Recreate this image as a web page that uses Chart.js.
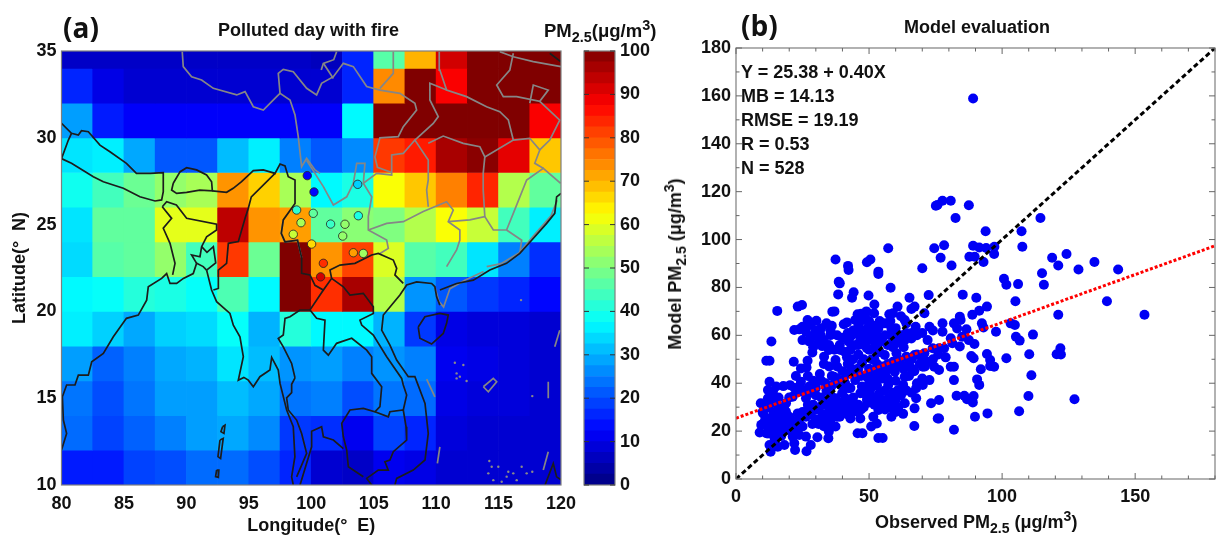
<!DOCTYPE html>
<html><head><meta charset="utf-8">
<script src="https://cdn.jsdelivr.net/npm/chart.js@4"></script>
<style>
html,body{margin:0;padding:0;background:#fff;width:1220px;height:537px;overflow:hidden}
canvas{position:absolute;left:0;top:0}
.t{position:absolute;white-space:nowrap;font-family:"Liberation Sans",Arial,sans-serif;font-weight:700;color:#111;line-height:1;font-size:18px}
.t sub,.t sup{font-size:78%;line-height:0}
.big{font-family:"Open Sans",sans-serif;font-size:28px}
</style></head><body>
<canvas id="map" width="1220" height="537"></canvas>
<canvas id="bar" width="1220" height="537"></canvas>
<canvas id="sc" width="1220" height="537"></canvas>
<div class="t big" style="left:63px;top:13px">(a)</div>
<div class="t big" style="left:741px;top:11px">(b)</div>
<div class="t" style="left:218px;top:21px">Polluted day with fire</div>
<div class="t" style="left:544px;top:22px;font-size:18.5px">PM<sub>2.5</sub>(μg/m<sup>3</sup>)</div>
<div class="t" style="left:904px;top:18px">Model evaluation</div>
<div class="t" style="left:875px;top:513px">Observed PM<sub>2.5</sub> (μg/m<sup>3</sup>)</div>
<div class="t" style="left:675px;top:264px;transform:translate(-50%,-50%) rotate(-90deg)">Model PM<sub>2.5</sub> (μg/m<sup>3</sup>)</div>
<div class="t" style="left:741px;top:63px">Y = 25.38 + 0.40X</div>
<div class="t" style="left:741px;top:87px">MB = 14.13</div>
<div class="t" style="left:741px;top:111px">RMSE = 19.19</div>
<div class="t" style="left:741px;top:135px">R = 0.53</div>
<div class="t" style="left:741px;top:159px">N = 528</div>
<script>
// ---------- panel (a) data: PM2.5 grid, north to south ----------
const lonCenters=[81.25,83.75,86.25,88.75,91.25,93.75,96.25,98.75,101.25,103.75,106.25,108.75,111.25,113.75,116.25,118.75];
const latEdges=[35,34,32,30,28,26,24,22,20,18,16,14,12,10];
const pmGrid=[
[7,7,7,7,7,7,7,7,6,16,46,70,92,100,100,100],
[16,10,8,8,8,8,8,8,8,16,74,100,88,100,100,100],
[28,15,12,12,12,12,12,12,12,37,100,100,100,100,100,88],
[35,36,29,21,21,31,36,25,21,26,82,85,96,99,90,68],
[39,44,48,52,54,73,67,54,37,40,62,68,75,84,55,47],
[35,47,47,60,60,94,73,72,47,51,50,55,62,57,44,36],
[34,46,47,52,44,82,48,100,73,81,59,46,44,35,25,17],
[37,38,41,40,38,45,37,100,83,96,55,27,21,18,16,13],
[36,33,29,33,34,38,30,41,37,37,30,18,10,9,9,8],
[28,22,25,29,30,35,31,27,28,25,27,25,11,10,9,8],
[24,20,24,28,28,31,29,24,25,20,24,23,10,9,9,8],
[23,19,22,25,28,29,26,18,17,11,19,16,9,8,8,8],
[15,15,19,20,23,23,20,16,8,7,11,10,8,8,8,8]];
const stationLon=[99.68,100.22,98.83,99.18,98.56,100.16,100.03,103.72,103.77,101.55,102.7,102.52,103.37,104.17,100.97,100.75];
const stationLat=[27.82,26.88,25.84,25.11,24.44,25.65,23.88,27.32,25.51,25.03,25.02,24.34,23.38,23.34,22.77,21.99];
const stationPM=[12,13,42,54,57,47,66,33,40,43,52,52,72,53,83,92];
const blackOutlines=[
[[80,30.83],[80.8,30.26],[81.35,30.16],[81.6,30.41],[82.15,30.35],[83.08,29.58],[83.88,29.2],[85.2,28.53],[86,27.95],[87.1,27.95],[88.15,27.99],[88.15,26.9],[88.02,26.42],[87.49,26.36],[86.28,26.6],[84.95,27.09],[83.35,27.47],[82.55,27.76],[80.8,28.53],[80,28.8]],
[[80.8,30.26],[80.55,29.87],[80,28.8]],
[[88.95,27.38],[89.5,28.05],[90.02,28.28],[90.82,28.15],[91.62,27.86],[92.02,27.47],[92.08,26.94],[91.07,26.99],[90.02,26.86],[89.22,26.8],[88.82,26.99],[88.95,27.38]],
[[92.08,26.94],[93.22,26.86],[93.75,27.09],[94.42,27.47],[95.36,28.11],[96.16,28.15],[97.1,27.95],[97.5,28.49],[97.9,28.38],[98.16,27.76],[98.7,27.57],[98.7,26.22],[97.76,25.27],[97.6,24.5],[97.9,24],[98.9,24.1],[99.23,23.1],[99.23,22.2],[99.9,22.1],[100.3,21.5],[100.97,21.23],[101.63,21.9],[101.5,22.38],[102.3,22.67],[103.5,22.77],[104.84,23.25],[105.37,23.34],[106.57,22.96],[106.84,22.48],[106.7,22.1],[107.37,21.61]],
[[97.1,27.95],[95.2,26.6],[94.96,25.94],[94.7,25.36],[94.16,24.02],[93.36,23.92],[93.22,22.77],[92.56,22.38],[92.56,21.32],[92.16,21.23]],
[[91.62,22.38],[92.02,21.23],[92.42,20.56],[93.49,19.88],[93.76,19.21],[94.29,18.54],[94.56,17.39],[94.16,16.04],[94.6,16.2],[94.96,16.04],[95.36,15.66],[95.89,16.24],[96.69,16.62],[96.83,17.35],[97.36,16.62],[97.5,15.85],[98.03,14.32],[98.56,13.36],[98.69,11.63],[98.43,10.47],[98.56,10]],
[[80,12.01],[80.41,12.97],[80.15,13.74],[80.07,15.08],[80.41,15.76],[81.08,15.76],[81.35,16.33],[82.15,16.33],[82.42,17.1],[83.35,17.58],[84.15,18.54],[85.2,19.6],[86.15,19.79],[86.82,20.65],[86.95,21.42],[88.02,21.9],[88.42,22.18],[88.69,21.61],[89.22,21.61],[89.76,21.9],[90.55,22.18],[90.82,22.77],[91.35,22.58],[91.62,22.38]],
[[88.07,26.03],[88.42,26.32],[89.2,26.13],[90.02,25.36],[92.42,25.03],[92.42,24.69],[91.62,24.3],[91.22,23.73],[91.09,23.15],[90.42,23.25],[90.82,22.77]],
[[91.22,23.73],[91.65,23.4],[92.16,23.73],[92.35,22.8],[91.62,22.38]],
[[88.07,26.03],[88.82,25.36],[88.15,24.79],[88.69,23.92],[89.09,22.77],[88.9,22.1]],
[[98.7,16.17],[98.43,15.8],[98.43,15.32],[98.03,15.02],[98.16,14.32],[98.83,13.74],[99.23,12.97],[99.63,11.82],[98.83,10.47]],
[[98.7,16.17],[98.43,17],[97.76,17.96],[97.36,18.44],[97.76,18.64],[97.9,19.6],[98.3,19.69],[99.1,20.08],[99.9,20.08],[100.97,21.23]],
[[99.9,20.08],[100.43,19.6],[101.1,19.5],[100.97,17.77],[101.37,17.48],[102.03,18.16],[103.24,18.45],[104.44,17.77],[104.84,17.39],[104.84,16.43],[105.64,15.66],[105.5,14.51],[105.1,14.22],[104.17,14.41],[103.1,14.32],[102.44,13.55],[102.57,12.78],[102.84,12.01],[102.97,11.05],[104.17,10.48]],
[[99.1,10],[100.03,12.2],[100.03,13.1],[100.83,13.36],[100.97,12.78],[101.77,12.59],[102.57,12.1]],
[[105.1,14.22],[106.17,13.93],[106.3,14.22],[107.37,14.32],[107.59,13.36],[107.64,12.59],[106.57,11.92],[106.3,11.44],[105.9,11.34],[106.17,10.86],[105.37,10.86],[104.44,10.38],[104.84,10]],
[[106.7,10],[106.84,10.38],[108.17,10.86],[109.11,11.44],[109.37,12.97],[109.11,14.7],[108.3,16.24],[107.77,16.24],[106.84,17.2],[106.3,18.06],[105.64,18.92],[105.77,19.79],[107.1,20.94],[107.64,21.52],[108.44,21.7],[109.64,21.61],[109.9,21.42],[110.04,20.84],[110.3,20.36]],
[[107.37,14.32],[107.64,15.18],[107.37,15.76],[107.24,16.14],[106.04,17.39],[104.97,18.64],[104.04,19.21],[103.9,19.5],[104.97,19.88],[104.97,20.27],[104.17,21.04],[103.1,20.94],[102.57,21.42],[101.63,21.9]],
[[110.3,21.23],[111.64,21.61],[112.98,21.8],[114.3,22.38],[115.64,22.77],[116.7,23.34],[117.65,24.1],[118.85,25.07],[119.5,25.65],[119.65,26.6],[120,26.8]],
[[108.57,19.1],[109.1,19.69],[110.3,19.88],[110.97,19.79],[110.84,19.31],[110.57,18.73],[109.64,18.12],[108.7,18.45],[108.57,19.1]],
[[92.9,13.36],[93.09,13.45],[93.01,12.97],[92.77,13.07],[92.9,13.36]],
[[92.69,12.59],[92.95,12.68],[92.74,11.53],[92.53,11.63],[92.69,12.59]],
[[92.42,10.86],[92.6,10.86],[92.56,10.44],[92.34,10.48],[92.42,10.86]],
[[118.72,10],[119.38,11.24],[119.65,10.47],[120,10.3]],
[[119.1,34.87],[119.97,34.39]]];
const greyOutlines=[
[[89.67,34.96],[89.75,34.1],[90.42,33.52],[91.22,33.33],[92.16,32.85],[94.03,32.47],[94.7,32.66],[95.36,31.79],[96.16,31.6],[97.23,32.37],[97.5,32.56],[98.3,32.18],[98.7,31.31],[98.96,30.07],[99.23,28.34],[99.63,28.82],[100.3,28.15],[100.7,27.95]],
[[97.5,32.56],[97.36,33.71],[97.76,33.94],[98.56,33.81],[99.63,32.85],[100.43,32.47],[100.83,33.14],[101.77,33.52],[102.57,34.29],[103.37,34.1],[104.44,32.95],[105.5,32.75],[107.1,32.56],[108.3,31.99],[108.44,31.6],[107.37,30.64],[106.97,30.07],[105.5,30],[105.1,28.9],[105.3,28.3],[106.44,28.0]],
[[99.63,28.7],[100.97,27.19],[101.77,26.13],[102.84,26.6],[103.37,27.38],[103.64,28.53],[104.3,28.53],[104.17,27.38],[104.84,26.6],[104.57,25.46],[104.57,24.69],[106.04,24.11],[106.17,23.63],[105.5,23.34]],
[[104.57,24.69],[106.04,25.07],[107.37,25.17],[108.97,25.75],[110.84,26.32],[111.37,25.84],[110.97,25.17],[111.9,24.69],[111.9,24.11],[111.64,23.54],[110.84,22.58]],
[[104.17,27.38],[105.24,27.95],[106.44,27.86],[106.44,29.01],[107.37,29.1],[108.3,29.87],[109.37,28.72],[109.37,27.57],[109.24,27],[109.37,26.03]],
[[109.37,29.68],[110.57,30.1],[112.17,29.68],[113.5,29.49],[113.9,28.9],[113.77,27.95],[113.77,27],[113.9,25.46],[112.7,25.27],[110.97,25.17]],
[[113.9,25.46],[114.58,24.69],[115.64,24.69],[116.18,25.65],[117.25,27.57],[118.58,28.24],[119.97,27.38]],
[[115.64,24.69],[116.85,24.1],[116.7,23.34]],
[[113.9,28.9],[116.18,29.87],[117.5,29.97],[118.3,29.3],[117.9,28.53],[118.58,28.24]],
[[116.18,29.87],[115.78,31.03],[115.1,31.5],[114.04,31.79],[112.44,32.37],[110.84,32.75],[110.3,33.9],[110.25,34.96]],
[[110.84,32.75],[109.5,33.14],[109.5,32.18],[110.17,31.22],[109.77,30.83],[108.3,29.87]],
[[116.18,34.87],[115.9,33.9],[114.85,33.04],[115.38,32.37],[116.45,32.37],[118.3,32.1],[118.98,32.75],[117.78,33.04],[117.5,31.99]],
[[118.3,32.1],[119.9,31.02],[119.1,29.87],[118.3,29.3]],
[[115.1,34.96],[116.18,34.67],[117.78,34.39],[120,34.1]],
[[100.97,34.29],[101.77,33.42]],
[[102.03,34.96],[101.8,34.5],[100.97,34.29],[100.8,33.9]],
[[106.57,34.96],[106.57,33.71],[105.5,32.85]],
[[97.76,25.27],[97.6,24.5],[97.9,24],[98.9,24.1],[99.23,23.1]],
[[114.05,22.58],[115.2,22.75],[116.7,23.4],[117.8,24.35],[119.2,25.5],[119.7,26.4]],
[[109.9,21.4],[110.2,20.6],[110.6,20.25],[111.1,21.3],[112.3,21.8],[113.8,22.3]],
[[109.24,16.1],[109.9,15.08]],[[118.98,15.95],[118.98,14.99]],[[119.5,17.96],[119.9,18.92]],[[110.3,12.2],[110.1,11.24]],[[118.98,11.92],[118.58,10.86]],
[[113.78,15.66],[114.58,16.14],[114.85,15.95],[114.18,15.37],[113.78,15.66]]];
const islandDots=[[111.5,17.04],[112.18,16.91],[111.64,16.43],[111.9,16.24],[112.44,15.99],[111.64,16.14],[117.7,15.12],[116.8,20.65],[114.26,11.38],[114.45,11.05],[114.98,11.05],[114.18,10.67],[114.58,10.28],[115.78,10.76],[115.65,10.48],[116.18,10.67],[116.45,10.28],[116.85,11.05],[117.25,10.67],[117.7,10.76],[115.25,10.19]];
const lonTicks=[80,85,90,95,100,105,110,115,120];
const latTicks=[10,15,20,25,30,35];
// ---------- colour bar ----------
const barLevels=[0,2.5,5,7.5,10,12.5,15,17.5,20,22.5,25,27.5,30,32.5,35,37.5,40,42.5,45,47.5,50,52.5,55,57.5,60,62.5,65,67.5,70,72.5,75,77.5,80,82.5,85,87.5,90,92.5,95,97.5,100];
// ---------- panel (b) data ----------
const oneToOneX=[0,180], oneToOneY=[0,180];
const fitX=[0,180], fitY=[25.38,97.38];
const scatterPoints=[[100.7,83.6],[101.6,81.1],[106,81.4],[115.7,81.1],[115,85.9],[128.7,87.5],[143.6,87.5],[139.4,74.2],[153.5,68.6],[121.1,68.6],[105,74.2],[85.2,77],[90.3,75.7],[94.3,72],[91.4,70.3],[88.8,68.6],[84.1,67.8],[81.9,65],[84.4,66.4],[83.1,62.9],[86.6,62.5],[77.6,65],[77.6,61.5],[92.4,65],[93,63.3],[97.7,61.5],[103.2,65],[104.8,64.3],[111.6,60.3],[105.2,59.4],[106.6,57.8],[89.6,56.4],[84.1,55.3],[80.7,58.8],[85,59.4],[87.5,58],[81.3,56.7],[78.2,54.6],[76.3,54.6],[121.9,54.6],[120.5,52.1],[122.1,52],[110.2,52.1],[101.6,50.4],[94.3,52.2],[95.5,49.7],[88.4,51.4],[89.3,50.4],[78.8,50.8],[95.5,47.2],[97,46.9],[92,45.8],[80.7,46.9],[81.9,46.9],[76.3,45.5],[111,43.3],[81.9,41.3],[90.6,41.6],[91.4,39.3],[82.9,34.8],[85.8,34.8],[89.3,34.7],[86.8,33.3],[89,32],[109.9,34.7],[127.2,33.3],[76.3,33],[94.5,27.4],[89.8,26],[106.4,28.3],[76.3,25.3],[81.9,20.6],
[89.1,158.9],[77.6,116.2],[80.7,116.2],[75.7,114.4],[87.5,114.3],[82.5,109],[114.4,109],[93.8,103.5],[107.3,103.5],[107.6,97],[78.2,97.6],[89.1,97.4],[91.4,96.7],[94,96.5],[97.1,97],[97,94],[87.7,92.8],[89.7,92.8],[93,90.6],[76.9,92.4],[81,89.2],[118.8,92.4],[124.2,94],[121.1,89.2],[134.7,90.6],
[37.4,91.7],[42.1,89],[49.2,90.5],[50.5,91.7],[57.2,96.4],[53.5,86.6],[70,88],[75.1,114.1],[74.5,96.4],
[53.5,85.6],[42.3,87.3],[39,81.7],[38.6,82.4],[58.1,79.9],[38.4,77.1],[44.2,78],[43.6,75.7],[49.8,76.6],[52,72.9],[65.2,75.7],[72.4,76.8],[60.7,72],[67.1,72],[65.9,71],[70.8,69.2],[15.5,70.2],[24.8,72.7],[23.2,72],[37,70],[36.2,69.9],[45.7,68.8],[48.5,68.5],[44.8,66.4],[47.9,66.4],[51.9,69.2],[57.6,68.8],[59,69.2],[63.4,66.4],[72.7,63.6],[67.5,63.6],[41.7,65.4],[40.5,64.6],[26.9,66.4],[30.2,66.1],[25,63.6],[28.1,64.3],[21.9,62.2],[23.8,62.5],[26.3,61.5],[35.5,62],[31.8,60.1],[35.5,60.1],[29.3,60.1],[25,58],[27.5,57.4],[13.3,57.4],[28.7,52.8],[32.4,55.5],[34.9,53.9],[39.3,53.9],[33.1,51.1],[37.4,49.7],[41.7,50.8],[42.3,57.4],[44.8,60.8],[43,59.4],[47.3,62.2],[49.8,63.6],[53.5,62.9],[46.7,58],[51,58.7],[52.9,57.4],[46,56],[49.2,54.6],[52.9,53.2],[55.9,51.8],[58.4,62.9],[60.9,60.1],[63.4,58],[65.9,58.7],[59.1,58],[60.3,52.5],[64,51.1],[67.1,51.8],[70.8,52.5],[73.9,54.6],[11.4,49.4],[12.6,49.4],[21.7,49],[26.9,49.4],[24.4,46.2],[26.5,46.6],[22.5,43],[24.4,40.6],[12.6,40.6],[12,37.2],[15.1,38.6],[17.8,38.8],[20.3,39.2],[13.9,36.5],[31.5,43.8],[36.8,42.7],[30.6,40.7],[33.7,40],[27.5,38.6],[23.8,36.5],[30,37.9],[35.5,35.1],[40.5,41.3],[43.3,46.2],[46,46.2],[44.8,41.3],[47.3,48.3],[49.2,42.7],[52.2,44.1],[55.9,45.5],[59.7,44.8],[63.4,42.7],[65.9,46.2],[70.2,46.9],[74.5,46.9],[72.7,41.3],[70.2,39.3],[67.7,37.9],[62.8,39.3],[57.2,39.3],[60.9,37.2],[52.2,40],[47.3,38.6],[50.4,37.2],[46.7,35.8],[49.2,33],[53.5,35.1],[57.2,33.7],[67.7,33.7],[73.3,31.6],[63.4,31.6],[67.1,29.5],[62.8,27.2],[58.4,26],[53.5,28.8],[51.6,26],[52.9,23.2],[50.8,21.9],[67,22.1],[75.8,25.3],[45.7,19.1],[47.5,19.1],[53.5,17.1],[55.1,17.1],[34.7,17],[30.6,17.4],[28.1,14.2],[26.5,11.6],[22.2,12.1],[21.9,14.9],[18.2,14.2],[15.7,13.5],[13,11.4],[12.6,14.2],
[9.3,31.6],[12,33.7],[15.1,31.6],[18.8,28.1],[10.2,27.4],[12,25.3],[15.1,26],[9.5,22.6],[8.9,19.4],[12,21.9],[14.5,22.6],[17,21.9],[11.4,19.1],[13.9,19.1],[16.4,20.5],[14.5,17],[18.8,31.6],[21.3,34.4],[26.3,33.7],[23.2,27.4],[26.3,26],[25,21.9],[28.7,23],[22.5,21.2],[23.8,18.4],[21.3,17.7],[26.3,17.7],[34.9,19.8],[35.5,23.3],[37.4,21.9],[32.4,26],[34.9,28.1],[38,26],[39.9,30.2],[37.4,33.7],[41.1,33.7],[43,25.3],[46.7,25.3],[43.6,30.2],[46,28.1],[32.4,30.9],[29.3,28.8],[39.9,35.8],[42.3,37.9],[39.3,39.3],
[40,45],[42,44],[36,43],[38,47],[35,47],[33,48],[45,44],[47,43],[50,46],[48,50],[51,50],[53,48],[55,47],[57,48],[60,47],[62,48],[55,42],[57,42],[60,41],[53,39],[56,37],[59,36],[47,36],[44,34],[41,32],[38,31],[36,33],[34,32],[32,34],[30,35],[28,36],[26,37],[24,39],[22,38],[20,34],[18,30],[16,29],[14,28],[12,30],[20,26],[18,24],[16,24],[14,21],[12,19],[10,23],[22,24],[24,23],[27,29],[29,31],[31,29],[33,27],[35,30],[37,28],[39,26],[41,28],[42,30],[44,32],[46,31],[48,30],[50,32],[52,33],[54,31],[56,29],[58,30],[60,33],[62,35],[64,37],[66,36],[68,40],[70,42],[65,43],[67,45],[69,48],[72,49],[74,50],[76,52],[63,55],[61,57],[59,55],[57,56],[55,59],[53,60],[51,61],[49,60],[47,59],[45,56],[43,54],[41,53],[39,56],[37,54],[35,56],[33,58],[31,57],[29,55],[46,64],[48,67],[50,66],[52,64],[54,66],[50,58],[52,55],[54,53],[66,61],[68,60],[70,61],[72,58],[74,62],[64,65],[62,68],
[10,28],[11,31],[13,32],[14,34],[16,34],[17,27],[19,25],[20,22],[21,20],[15,19],[17,18],[13,24],[11,25],[14,26],[16,26],[18,20],[24,26],[25,28],[27,31],[28,27],[30,25],[31,23],[33,22],[34,24],[36,26],[37,30],[39,32],[40,29],[42,27],[44,28],[45,30],[47,29],[49,35],[51,34],[52,31],[54,36],[55,33],[57,32],[59,31],[60,28],[61,30],[48,38],[50,40],[51,42],[53,43],[54,45],[56,44],[58,46],[59,49],[61,50],[63,46],[65,48],[66,50],[68,52],[70,50],[71,47],[43,38],[41,40],[38,42],[36,39],[34,37],[32,41],[29,41],[27,43],[42,48],[44,50],[46,52],[48,56],[50,54],[52,50],[54,57],[56,60],[58,60],[60,63],[62,60],[64,61],[44,62],[42,61],[40,59],[38,60],[36,64],[34,65],[32,63],[30,62],[28,59],[56,65],[58,66],[47,69],[49,70]];

// ---------- helpers ----------
function jet(v){const t=Math.max(0,Math.min(1,v/100));
 const c=x=>Math.round(255*Math.max(0,Math.min(1,1.5-Math.abs(4*t-x))));
 return `rgb(${c(3)},${c(2)},${c(1)})`;}
const tickFont={family:'"Liberation Sans",Arial,sans-serif',size:18,weight:'bold'};
const FRAME='#7f7f7f';
const framePlugin={id:'framePlugin',afterDatasetsDraw(ch,_a,o){
 const {left,right,top,bottom}=ch.chartArea,c=ch.ctx;c.save();c.strokeStyle=FRAME;c.lineWidth=o.w||1.2;
 c.strokeRect(left,top,right-left,bottom-top);
 c.strokeStyle=o.tickColor||'#666';c.lineWidth=1;
 if(o.y){const s=ch.scales.y;for(const t of s.ticks){const p=s.getPixelForValue(t.value);
   const L=(t.value%o.y===0)?o.major:o.minor;
   c.beginPath();c.moveTo(left,p);c.lineTo(left+L,p);c.moveTo(right,p);c.lineTo(right-L,p);c.stroke();}}
 if(o.x){const s=ch.scales.x;for(const t of s.ticks){const p=s.getPixelForValue(t.value);
   const L=(t.value%o.x===0)?o.major:o.minor;
   c.beginPath();c.moveTo(p,bottom);c.lineTo(p,bottom-L);c.moveTo(p,top);c.lineTo(p,top+L);c.stroke();}}
 c.restore();}};
const base={responsive:false,animation:false,events:[],plugins:{legend:{display:false},tooltip:{enabled:false}}};
const noPad=s=>{s.paddingLeft=0;s.paddingRight=0;s.paddingTop=0;s.paddingBottom=0;};
const fixW=w=>s=>{s.width=w;noPad(s);}, fixH=h=>s=>{s.height=h;noPad(s);};

// ---------- map chart ----------
const mapSets=[];
pmGrid.forEach((row,r)=>mapSets.push({type:'bar',order:5,grouped:false,barPercentage:1,categoryPercentage:1,borderWidth:0,
 data:row.map((v,c)=>({x:lonCenters[c],y:[latEdges[r+1],latEdges[r]]})),backgroundColor:row.map(jet)}));
greyOutlines.forEach(l=>mapSets.push({type:'line',order:3,data:l.map(p=>({x:p[0],y:p[1]})),borderColor:'#868686',borderWidth:1.7,pointRadius:0,fill:false,tension:0}));
mapSets.push({type:'scatter',order:3,data:islandDots.map(p=>({x:p[0],y:p[1]})),pointRadius:1.2,pointBackgroundColor:'#8a8a8a',pointBorderWidth:0});
blackOutlines.forEach(l=>mapSets.push({type:'line',order:2,data:l.map(p=>({x:p[0],y:p[1]})),borderColor:'#1c1c1c',borderWidth:1.7,pointRadius:0,fill:false,tension:0}));
mapSets.push({type:'scatter',order:1,data:stationLon.map((x,i)=>({x,y:stationLat[i]})),pointRadius:4.2,pointBackgroundColor:stationPM.map(jet),pointBorderColor:'#222',pointBorderWidth:0.8});
new Chart(document.getElementById('map'),{data:{datasets:mapSets},plugins:[framePlugin],options:{...base,
 layout:{padding:{left:5.5,top:51,right:659,bottom:0}},
 plugins:{...base.plugins,framePlugin:{}},
 scales:{
  x:{type:'linear',offset:false,min:80,max:120,afterFit:fixH(52),grid:{display:false,drawTicks:false},border:{display:false},
     afterBuildTicks:s=>{s.ticks=lonTicks.map(value=>({value}));},
     ticks:{font:tickFont,color:'#111',padding:8,maxRotation:0,autoSkip:false},
     title:{display:true,text:'Longitude(°  E)',font:tickFont,color:'#111',padding:{top:0,bottom:0}}},
  y:{type:'linear',min:10,max:35,afterFit:fixW(56),grid:{display:false,drawTicks:false},border:{display:false},
     afterBuildTicks:s=>{s.ticks=latTicks.map(value=>({value}));},
     ticks:{font:tickFont,color:'#111',padding:5,autoSkip:false},
     title:{display:true,text:'Latitude(°  N)',font:tickFont,color:'#111',padding:{top:4,bottom:0}}}}}});

// ---------- colour bar chart ----------
const barSets=[];
for(let i=0;i<barLevels.length-1;i++){const lo=barLevels[i],hi=barLevels[i+1];
 barSets.push({type:'bar',grouped:false,barPercentage:1,categoryPercentage:1,borderWidth:0,data:[[lo,hi]],backgroundColor:jet((lo+hi)/2)});}
new Chart(document.getElementById('bar'),{data:{labels:['PM2.5'],datasets:barSets},plugins:[framePlugin],options:{...base,
 layout:{padding:{left:584,top:51,right:555,bottom:52}},
 plugins:{...base.plugins,framePlugin:{y:10,major:5,minor:5,tickColor:'#333'}},
 scales:{x:{display:false},
  y:{type:'linear',position:'right',min:0,max:100,afterFit:fixW(50),grid:{display:false,drawTicks:false},border:{display:false},
     ticks:{stepSize:10,font:tickFont,color:'#111',padding:5,autoSkip:false}}}}});

// ---------- scatter chart ----------
new Chart(document.getElementById('sc'),{data:{datasets:[
 {type:'line',order:1,data:fitX.map((x,i)=>({x,y:fitY[i]})),borderColor:'#ff0000',borderWidth:3,borderDash:[3,2],pointRadius:0,fill:false},
 {type:'line',order:2,data:oneToOneX.map((x,i)=>({x,y:oneToOneY[i]})),borderColor:'#000',borderWidth:3,borderDash:[5,3],pointRadius:0,fill:false},
 {type:'scatter',order:3,data:scatterPoints.map(p=>({x:p[0],y:p[1]})),pointRadius:5,pointBackgroundColor:'#0000f5',pointBorderWidth:0}
]},plugins:[framePlugin],options:{...base,
 layout:{padding:{left:676,top:48,right:0,bottom:0}},
 plugins:{...base.plugins,framePlugin:{x:50,y:20,major:6,minor:3.5}},
 scales:{
  x:{type:'linear',min:0,max:180,afterFit:fixH(58),grid:{display:false,drawTicks:false},border:{display:false},
     ticks:{stepSize:10,font:tickFont,color:'#111',padding:7,maxRotation:0,autoSkip:false,
       callback:v=>(v%50===0&&v<180?String(v):'')}},
  y:{type:'linear',min:0,max:180,afterFit:fixW(60),grid:{display:false,drawTicks:false},border:{display:false},
     ticks:{stepSize:10,font:tickFont,color:'#111',padding:5,autoSkip:false,
       callback:v=>(v%20===0?String(v):'')}}}}});
</script>
</body></html>
